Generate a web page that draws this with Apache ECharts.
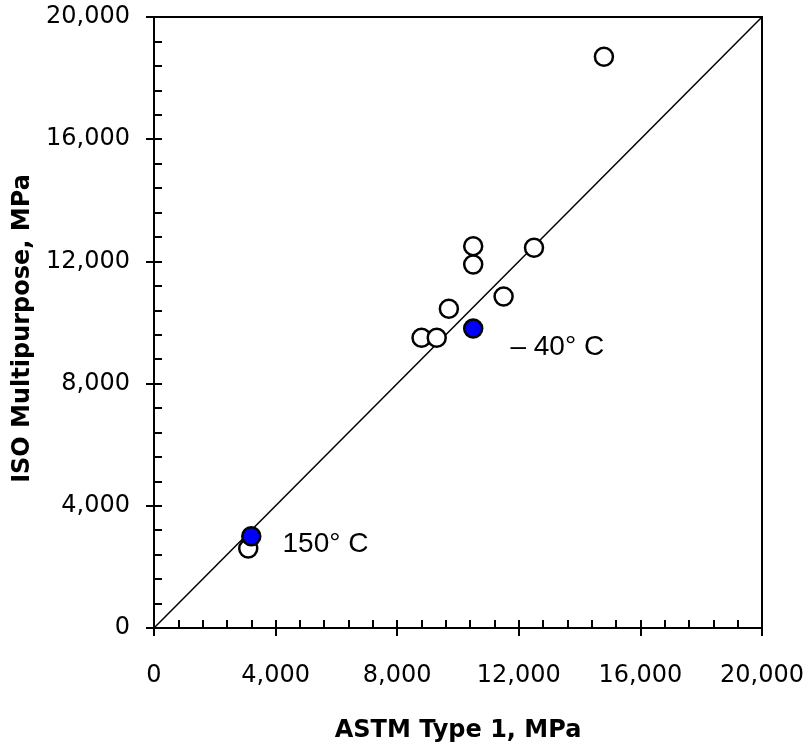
<!DOCTYPE html>
<html><head><meta charset="utf-8">
<script src="https://cdn.jsdelivr.net/npm/echarts@6/dist/echarts.min.js"></script>
<style>html,body{margin:0;padding:0;background:#fff}#c{width:809px;height:748px}</style>
</head><body><div id="c"></div>
<script>
// Open circles: ASTM Type 1 (x) vs ISO Multipurpose (y), MPa
const openX = [14800, 10500, 10500, 12500, 11500, 9700, 8800, 9300, 3100];
const openY = [18700, 12500, 11900, 12450, 10850, 10450, 9500, 9500, 2600];
// Filled (blue) points with temperature labels
const blueX = [10500, 3200];
const blueY = [9800, 3000];
const blueLabels = ['\u2013 40\u00b0 C', '150\u00b0 C'];
// Line of equality
const lineX = [0, 20000];
const lineY = [0, 20000];
const axisMin = 0, axisMax = 20000, axisInterval = 4000;

const tickFont = '"DejaVu Sans", Verdana, sans-serif';
const nameFont = '"DejaVu Sans", Arial, sans-serif';
const labelFont = 'Arial, "Liberation Sans", sans-serif';
const chart = echarts.init(document.getElementById('c'));
const labelOffsets = [[27, 19], [21, 8]];
const axisBase = { min: axisMin, max: axisMax, interval: axisInterval };
const fmt = v => v.toLocaleString('en-US');
chart.setOption({
  animation: false,
  grid: { left: 154, top: 17, width: 608, height: 612, show: true, borderColor: '#000', borderWidth: 2, backgroundColor: 'transparent' },
  xAxis: [
    Object.assign({}, axisBase, {
      type: 'value', position: 'bottom',
      name: 'ASTM Type 1, MPa', nameLocation: 'middle', nameGap: 91,
      nameTextStyle: { fontFamily: nameFont, fontWeight: 'bold', fontSize: 24, color: '#000' },
      axisLine: { show: true, lineStyle: { color: '#000', width: 2 } },
      axisTick: { show: true, inside: true, length: 8, lineStyle: { color: '#000', width: 2 } },
      minorTick: { show: true, splitNumber: 5, length: 8, lineStyle: { color: '#000', width: 2 } },
      axisLabel: { show: true, margin: 36, fontFamily: tickFont, fontSize: 24, color: '#000', formatter: fmt },
      splitLine: { show: false }
    }),
    Object.assign({}, axisBase, {
      type: 'value', position: 'bottom',
      axisLine: { show: false },
      axisTick: { show: true, inside: false, length: 8, lineStyle: { color: '#000', width: 2 } },
      axisLabel: { show: false }, splitLine: { show: false }
    })
  ],
  yAxis: [
    Object.assign({}, axisBase, {
      type: 'value', position: 'left',
      name: 'ISO Multipurpose, MPa', nameLocation: 'middle', nameGap: 118, nameRotate: 90,
      nameTextStyle: { fontFamily: nameFont, fontWeight: 'bold', fontSize: 24, color: '#000', padding: [0, 12, 0, 0] },
      axisLine: { show: true, lineStyle: { color: '#000', width: 2 } },
      axisTick: { show: true, inside: true, length: 8, lineStyle: { color: '#000', width: 2 } },
      minorTick: { show: true, splitNumber: 5, length: 8, lineStyle: { color: '#000', width: 2 } },
      axisLabel: { show: true, margin: 24, fontFamily: tickFont, fontSize: 24, color: '#000', formatter: fmt },
      splitLine: { show: false }
    }),
    Object.assign({}, axisBase, {
      type: 'value', position: 'left',
      axisLine: { show: false },
      axisTick: { show: true, inside: false, length: 8, lineStyle: { color: '#000', width: 2 } },
      axisLabel: { show: false }, splitLine: { show: false }
    })
  ],
  series: [
    {
      type: 'line', xAxisIndex: 0, yAxisIndex: 0,
      data: lineX.map((x, i) => [x, lineY[i]]),
      symbol: 'none', lineStyle: { color: '#000', width: 1.5 }, z: 1
    },
    {
      type: 'scatter', xAxisIndex: 0, yAxisIndex: 0,
      data: openX.map((x, i) => [x, openY[i]]),
      symbol: 'circle', symbolSize: 18,
      itemStyle: { color: '#fff', borderColor: '#000', borderWidth: 2.5, opacity: 1 }, z: 3
    },
    {
      type: 'scatter', xAxisIndex: 0, yAxisIndex: 0,
      data: blueX.map((x, i) => ({
        value: [x, blueY[i]],
        label: { show: true, formatter: blueLabels[i], position: 'right', distance: labelOffsets[i][0], offset: [0, labelOffsets[i][1]] }
      })),
      symbol: 'circle', symbolSize: 18,
      itemStyle: { color: '#0000ff', borderColor: '#000', borderWidth: 2.5, opacity: 1 },
      label: { fontFamily: labelFont, fontSize: 28, color: '#000' }, z: 4
    }
  ]
});
</script></body></html>
